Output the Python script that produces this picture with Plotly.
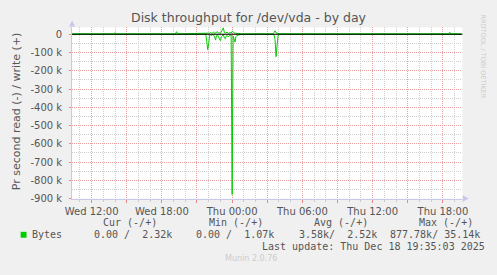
import plotly.graph_objects as go

# ---------------- data ----------------
times = [
    "2025-12-17 10:20", "2025-12-17 10:30", "2025-12-17 10:35", "2025-12-17 10:40",
    "2025-12-17 13:55", "2025-12-17 14:00", "2025-12-17 14:05",
    "2025-12-17 19:10", "2025-12-17 19:15", "2025-12-17 19:20",
    "2025-12-17 21:40", "2025-12-17 21:45", "2025-12-17 21:50", "2025-12-17 21:55",
    "2025-12-17 22:00", "2025-12-17 22:05", "2025-12-17 22:10", "2025-12-17 22:15",
    "2025-12-17 22:20", "2025-12-17 22:25", "2025-12-17 22:30", "2025-12-17 22:35",
    "2025-12-17 22:40", "2025-12-17 22:45", "2025-12-17 22:50", "2025-12-17 22:55",
    "2025-12-17 23:00", "2025-12-17 23:05", "2025-12-17 23:10", "2025-12-17 23:15",
    "2025-12-17 23:20", "2025-12-17 23:25", "2025-12-17 23:30", "2025-12-17 23:35",
    "2025-12-17 23:40", "2025-12-17 23:45", "2025-12-17 23:50", "2025-12-17 23:55",
    "2025-12-18 00:00", "2025-12-18 00:05", "2025-12-18 00:10", "2025-12-18 00:15",
    "2025-12-18 00:20", "2025-12-18 00:25", "2025-12-18 00:30", "2025-12-18 00:35",
    "2025-12-18 00:40", "2025-12-18 00:45", "2025-12-18 00:55", "2025-12-18 01:00",
    "2025-12-18 01:05", "2025-12-18 02:05", "2025-12-18 02:10", "2025-12-18 02:15",
    "2025-12-18 02:45", "2025-12-18 02:50", "2025-12-18 02:55",
    "2025-12-18 03:30", "2025-12-18 03:35", "2025-12-18 03:40", "2025-12-18 03:45",
    "2025-12-18 03:50", "2025-12-18 03:55", "2025-12-18 04:00",
    "2025-12-18 08:50", "2025-12-18 08:55", "2025-12-18 09:00",
    "2025-12-18 09:45", "2025-12-18 09:50", "2025-12-18 09:55",
    "2025-12-18 10:25", "2025-12-18 10:30", "2025-12-18 10:35",
    "2025-12-18 13:45", "2025-12-18 13:50", "2025-12-18 13:55",
    "2025-12-18 14:10", "2025-12-18 14:15", "2025-12-18 14:20",
    "2025-12-18 18:30", "2025-12-18 18:35", "2025-12-18 18:40",
    "2025-12-18 19:35",
]
# read bytes/s in k (drawn negative)
read_k = [
    0, 0, 5, 0,
    0, 0, 0,
    0, 0, 0,
    0, 0, 40, 85,
    50, 5, 3, 8,
    2, 6, 10, 32,
    8, 4, 12, 20,
    35, 14, 8, 2,
    20, 25, 10, 6,
    15, 8, 4, 3,
    877.78, 10, 25, 43,
    12, 6, 8, 2,
    4, 0, 0, 3,
    0, 0, 4, 0,
    0, 3, 0,
    0, 5, 30, 123,
    40, 10, 0,
    0, 3, 0,
    0, 3, 0,
    0, 3, 0,
    0, 3, 0,
    0, 3, 0,
    0, 0, 0,
    0,
]
# write bytes/s in k (drawn positive)
write_k = [
    2.3, 2.3, 2.3, 2.3,
    2.3, 9, 2.3,
    2.3, 14, 2.3,
    2.3, 3, 3, 3,
    4, 6, 10, 5,
    8, 12, 4, 6,
    10, 14, 6, 8,
    5, 12, 24, 35.14,
    10, 6, 8, 12,
    4, 6, 10, 5,
    16, 12, 6, 4,
    8, 3, 5, 3,
    2.3, 2.3, 2.3, 2.3,
    2.3, 2.3, 2.3, 2.3,
    2.3, 2.3, 2.3,
    2.3, 10, 19, 8,
    5, 3, 2.3,
    2.3, 2.3, 2.3,
    2.3, 2.3, 2.3,
    2.3, 2.3, 2.3,
    2.3, 2.3, 2.3,
    2.3, 2.3, 2.3,
    2.3, 11, 2.3,
    2.32,
]

x_tickvals = ["2025-12-17 12:00", "2025-12-17 15:00", "2025-12-17 18:00", "2025-12-17 21:00",
              "2025-12-18 00:00", "2025-12-18 03:00", "2025-12-18 06:00", "2025-12-18 09:00",
              "2025-12-18 12:00", "2025-12-18 15:00", "2025-12-18 18:00"]
x_ticktext = ["Wed 12:00", "", "Wed 18:00", "", "Thu 00:00", "", "Thu 06:00", "",
              "Thu 12:00", "", "Thu 18:00"]
y_tickvals = [0, -100000, -200000, -300000, -400000, -500000, -600000, -700000, -800000, -900000]
y_ticktext = ["0", "-100 k", "-200 k", "-300 k", "-400 k", "-500 k", "-600 k", "-700 k", "-800 k", "-900 k"]

title = "Disk throughput for /dev/vda - by day"
ylabel = "Pr second read (-) / write (+)"
legend_name = "Bytes"
headers = ["Cur (-/+)", "Min (-/+)", "Avg (-/+)", "Max (-/+)"]
values = ["0.00 /  2.32k", "0.00 /  1.07k", "3.58k/  2.52k", "877.78k/ 35.14k"]
last_update = "Last update: Thu Dec 18 19:35:03 2025"

# ---------------- layout helpers ----------------
W, H = 497, 275
def px(x):
    return x / W
def py(y):
    return 1 - y / H

GREEN = "#00cc00"
TXT = "#555555"
AX = "#c8c8ec"

fig = go.Figure()
fig.add_trace(go.Scatter(x=times, y=[-v * 1000 for v in read_k], mode="lines",
                         line=dict(color=GREEN, width=1), hoverinfo="skip", showlegend=False))
fig.add_trace(go.Scatter(x=times, y=[v * 1000 for v in write_k], mode="lines",
                         line=dict(color=GREEN, width=1), hoverinfo="skip", showlegend=False))

x0, x1 = 66.7, 466.7
ytop, ybot = 28, 203

fig.update_layout(
    width=W, height=H,
    margin=dict(l=0, r=0, t=0, b=0),
    paper_bgcolor="#f0f0f0", plot_bgcolor="#ffffff",
    font=dict(family="DejaVu Sans", color=TXT, size=10),
    xaxis=dict(
        domain=[px(x0), px(x1)],
        range=["2025-12-17 10:20", "2025-12-18 19:40"],
        tickvals=x_tickvals, ticktext=x_ticktext,
        showgrid=True, gridcolor="#eaa0a0", griddash="1px,1px", gridwidth=1,
        ticks="outside", ticklen=3, tickcolor="#ee8888",
        minor=dict(dtick=3600000, tick0="2025-12-17 00:00", showgrid=True,
                   gridcolor="#cfcfcf", griddash="1px,1px", gridwidth=1,
                   ticks="outside", ticklen=2, tickcolor="#cccccc"),
        showline=True, linecolor=AX, linewidth=1,
        zeroline=False,
        tickfont=dict(size=10, color=TXT),
    ),
    yaxis=dict(
        domain=[py(ybot), py(ytop)],
        range=[-900000, 37500],
        tickvals=y_tickvals, ticktext=y_ticktext,
        showgrid=True, gridcolor="#eaa0a0", griddash="1px,1px", gridwidth=1,
        ticks="outside", ticklen=2, tickcolor="#ee8888",
        minor=dict(dtick=50000, tick0=0, showgrid=True,
                   gridcolor="#cfcfcf", griddash="1px,1px", gridwidth=1),
        showline=True, linecolor=AX, linewidth=1,
        zeroline=False,
        ticklabelstandoff=5,
        tickfont=dict(size=10, color=TXT),
    ),
)

shapes = []
# zero line on top
shapes.append(dict(type="line", xref="paper", yref="y", x0=px(x0), x1=px(x1), y0=0, y1=0,
                   line=dict(color="#000000", width=1), layer="above"))
# axis arrows
shapes.append(dict(type="path", xref="paper", yref="paper",
                   path=f"M {px(63.5)} {py(27)} L {px(70)} {py(27)} L {px(66.7)} {py(21)} Z",
                   fillcolor=AX, line=dict(width=0)))
shapes.append(dict(type="path", xref="paper", yref="paper",
                   path=f"M {px(467)} {py(199.5)} L {px(467)} {py(206.5)} L {px(473)} {py(203)} Z",
                   fillcolor=AX, line=dict(width=0)))
# legend swatch
shapes.append(dict(type="rect", xref="paper", yref="paper",
                   x0=px(14), x1=px(20), y0=py(243), y1=py(237),
                   fillcolor=GREEN, line=dict(width=0)))
fig.update_layout(shapes=shapes)

ann = []
def text(x, y, s, size=10, family="DejaVu Sans Mono", color=TXT, xanchor="left", angle=0):
    ann.append(dict(x=px(x), y=py(y), xref="paper", yref="paper", text=s, showarrow=False,
                    xanchor=xanchor, yanchor="middle", textangle=angle,
                    font=dict(size=size, family=family, color=color),
                    borderpad=0, borderwidth=0))

text(248, 18, title, size=12.5, family="DejaVu Sans", xanchor="center")
text(10, 114, ylabel, size=11, family="DejaVu Sans", xanchor="center", angle=-90)
text(488, 58, "RRDTOOL / TOBI OETIKER", size=6.5, family="DejaVu Sans", color="#cccccc",
     xanchor="center", angle=90)
hx = [98.3, 206.7, 315, 422.7]
vx = [88.7, 194, 299.3, 392.7]
for h, x in zip(headers, hx):
    text(x, 227, h)
text(26, 240, legend_name)
for v, x in zip(values, vx):
    text(x, 240, v)
text(261.7, 252, last_update)
text(223, 264, "Munin 2.0.76", size=8, family="DejaVu Sans", color="#cccccc")
fig.update_layout(annotations=ann)

fig.write_html("out.html")
